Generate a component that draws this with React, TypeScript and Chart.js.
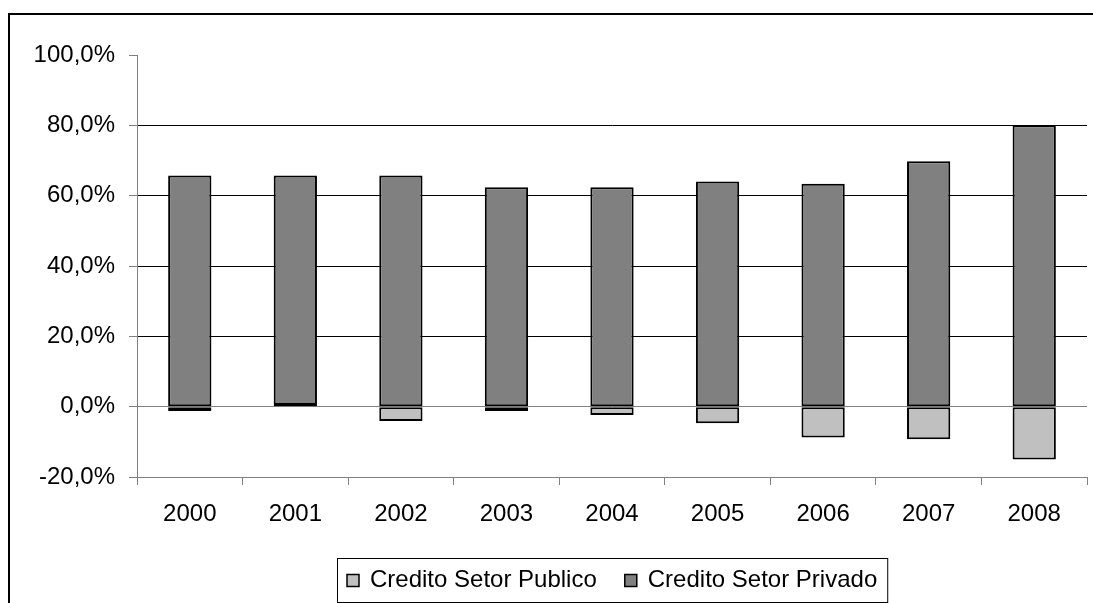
import React, { useEffect, useRef } from "react";
import { Chart, registerables } from "chart.js";

Chart.register(...registerables);

// Annual series (percent)
const years = ["2000", "2001", "2002", "2003", "2004", "2005", "2006", "2007", "2008"];
const creditoPublico = [-1.2, 0.5, -4.1, -1.2, -2.4, -4.7, -8.8, -9.3, -15.0];
const creditoPrivado = [65.7, 65.2, 65.7, 62.4, 62.4, 64.0, 63.4, 69.8, 80.0];
const seriesNames = ["Credito Setor Publico", "Credito Setor Privado"];
const yTicks = { min: -20, max: 100, step: 20 };

const FONT = "'Liberation Sans', Arial, sans-serif";
const FONT_SIZE = 24;

const fmtPct = (v: number) => v.toFixed(1).replace(".", ",") + "%";

// Framed legend centered under the plot area, built from the datasets
const boxedLegend = {
  id: "boxedLegend",
  afterDraw(chart: any) {
    const { ctx, chartArea } = chart;
    const ds = chart.data.datasets;
    ctx.save();
    ctx.font = `${FONT_SIZE}px ${FONT}`;
    const sq = 12;
    const padL = 10;
    const padR = 10;
    const gapText = 11;
    const gapItem = 28;
    const widths = ds.map((d: any) => ctx.measureText(d.label).width);
    let total = padL + padR;
    widths.forEach((w: number, i: number) => {
      total += sq + gapText + w + (i < widths.length - 1 ? gapItem : 0);
    });
    const cx = (chartArea.left + chartArea.right) / 2;
    const left = Math.round(cx - total / 2);
    const top = 558;
    const h = 44;
    ctx.strokeStyle = "#000";
    ctx.lineWidth = 1;
    ctx.strokeRect(left + 0.5, top + 0.5, total, h);
    const cy = top + h / 2 + 0.5;
    let x = left + padL;
    ds.forEach((d: any, i: number) => {
      ctx.fillStyle = d.backgroundColor;
      ctx.fillRect(x, cy - sq / 2, sq, sq);
      ctx.strokeStyle = "#000";
      ctx.lineWidth = 1.5;
      ctx.strokeRect(x, cy - sq / 2, sq, sq);
      x += sq + gapText;
      ctx.fillStyle = "#000";
      ctx.textBaseline = "middle";
      ctx.textAlign = "left";
      ctx.fillText(d.label, x, cy);
      x += widths[i] + gapItem;
    });
    ctx.restore();
  },
};

export default function App() {
  const ref = useRef<HTMLCanvasElement | null>(null);

  useEffect(() => {
    document.body.style.margin = "0";
    const canvas = ref.current;
    if (!canvas) return;
    const chart = new Chart(canvas, {
      type: "bar",
      data: {
        labels: years,
        datasets: [
          {
            label: seriesNames[0],
            data: creditoPublico,
            backgroundColor: "#C0C0C0",
            borderColor: "#000000",
            borderWidth: 2,
            borderSkipped: false,
          },
          {
            label: seriesNames[1],
            data: creditoPrivado,
            backgroundColor: "#808080",
            borderColor: "#000000",
            borderWidth: 2,
            borderSkipped: false,
          },
        ],
      },
      options: {
        responsive: false,
        animation: false,
        devicePixelRatio: 1,
        layout: { padding: { top: 55, right: 6, bottom: 76, left: 0 } },
        datasets: { bar: { barPercentage: 0.41, categoryPercentage: 1 } },
        plugins: {
          legend: { display: false },
          tooltip: { enabled: false },
        },
        scales: {
          x: {
            stacked: true,
            offset: true,
            grid: {
              offset: true,
              drawOnChartArea: false,
              drawTicks: true,
              tickLength: 8,
              color: "#808080",
              lineWidth: 1,
            },
            border: { color: "#808080", width: 1 },
            ticks: {
              color: "#000",
              font: { family: FONT, size: FONT_SIZE },
              padding: 15,
              maxRotation: 0,
            },
            afterFit(scale: any) {
              scale.height = 50;
            },
          },
          y: {
            stacked: true,
            min: yTicks.min,
            max: yTicks.max,
            grid: {
              color: (c: any) => {
                const v = c.tick ? c.tick.value : null;
                if (v === yTicks.max) return "rgba(0,0,0,0)";
                if (v === 0 || v === yTicks.min) return "#808080";
                return "#000000";
              },
              tickColor: "#808080",
              tickLength: 8,
              lineWidth: 1,
            },
            border: { color: "#808080", width: 1 },
            ticks: {
              stepSize: yTicks.step,
              color: "#000",
              font: { family: FONT, size: FONT_SIZE },
              padding: 14,
              callback: (v: any) => fmtPct(Number(v)),
            },
            afterFit(scale: any) {
              scale.width = 137;
            },
          },
        },
      },
      plugins: [boxedLegend],
    });
    return () => chart.destroy();
  }, []);

  return (
    <div style={{ position: "relative", width: 1093, height: 603, overflow: "hidden", background: "#fff" }}>
      <canvas ref={ref} width={1093} height={603} style={{ position: "absolute", left: 0, top: 0 }} />
      <div
        style={{
          position: "absolute",
          left: 8,
          top: 13,
          width: 1200,
          height: 700,
          borderLeft: "2px solid #000",
          borderTop: "2px solid #000",
          pointerEvents: "none",
        }}
      />
    </div>
  );
}
